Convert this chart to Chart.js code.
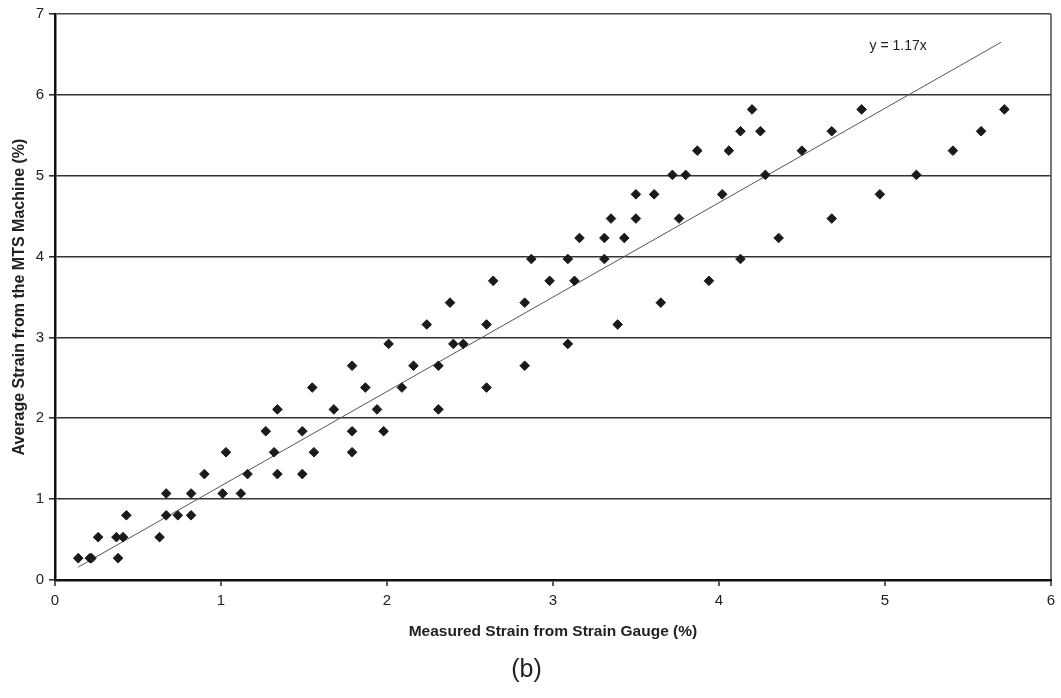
<!DOCTYPE html>
<html><head><meta charset="utf-8">
<script src="https://cdn.jsdelivr.net/npm/chart.js@4.4.1/dist/chart.umd.min.js"></script>
<style>html,body{margin:0;padding:0;background:#fff;}#wrap{position:relative;width:1061px;height:698px;}</style>
</head><body><div id="wrap"><canvas id="c" width="1061" height="698"></canvas></div>
<script>
// Measured strain (x) and MTS strain (y)
const xValues = [
  0.14,0.21,0.22,0.38,
  0.26,0.37,0.41,0.63,
  0.43,0.67,0.74,0.82,
  0.67,0.82,1.01,1.12,
  0.90,1.16,1.34,1.49,
  1.03,1.32,1.56,1.79,
  1.27,1.49,1.79,1.98,
  1.34,1.68,1.94,2.31,
  1.55,1.87,2.09,2.60,
  1.79,2.16,2.31,2.83,
  2.01,2.40,2.46,3.09,
  2.24,2.60,3.39,
  2.38,2.83,3.65,
  2.64,2.98,3.13,3.94,
  2.87,3.09,3.31,4.13,
  3.16,3.31,3.43,4.36,
  3.35,3.50,3.76,4.68,
  3.50,3.61,4.02,4.97,
  3.72,3.80,4.28,5.19,
  3.87,4.06,4.50,5.41,
  4.13,4.25,4.68,5.58,
  4.20,4.86,5.72
];
const yValues = [
  0.27,0.27,0.27,0.27,
  0.53,0.53,0.53,0.53,
  0.80,0.80,0.80,0.80,
  1.07,1.07,1.07,1.07,
  1.31,1.31,1.31,1.31,
  1.58,1.58,1.58,1.58,
  1.84,1.84,1.84,1.84,
  2.11,2.11,2.11,2.11,
  2.38,2.38,2.38,2.38,
  2.65,2.65,2.65,2.65,
  2.92,2.92,2.92,2.92,
  3.16,3.16,3.16,
  3.43,3.43,3.43,
  3.70,3.70,3.70,3.70,
  3.97,3.97,3.97,3.97,
  4.23,4.23,4.23,4.23,
  4.47,4.47,4.47,4.47,
  4.77,4.77,4.77,4.77,
  5.01,5.01,5.01,5.01,
  5.31,5.31,5.31,5.31,
  5.55,5.55,5.55,5.55,
  5.82,5.82,5.82
];
// Trend line y = 1.17x, end points
const trendX = [0.14, 5.70];
const trendY = [0.16, 6.65];
const trendLabel = 'y = 1.17x';
const xTicks = [0,1,2,3,4,5,6];
const yTicks = [0,1,2,3,4,5,6,7];
const xTitle = 'Measured Strain from Strain Gauge (%)';
const yTitle = 'Average Strain from the MTS Machine (%)';
const figLabel = '(b)';

const points = xValues.map((x,i)=>({x:x,y:yValues[i]}));
const trend = trendX.map((x,i)=>({x:x,y:trendY[i]}));

const FONT = "'Liberation Sans', Arial, sans-serif";

const labelPlugin = {
  id:'trendLabel',
  afterDatasetsDraw(chart){
    const {ctx, scales:{x,y}} = chart;
    ctx.save();
    ctx.font = '14px ' + FONT;
    ctx.fillStyle = '#222';
    ctx.textAlign = 'center';
    ctx.textBaseline = 'middle';
    ctx.fillText(trendLabel, x.getPixelForValue(5.08), y.getPixelForValue(6.6));
    ctx.restore();
  }
};

new Chart(document.getElementById('c'), {
  type:'scatter',
  data:{datasets:[
    {label:'data', data:points, pointStyle:'rectRot', pointRadius:4.8, pointHoverRadius:4.8,
     backgroundColor:'#1a1a1a', borderColor:'#1a1a1a', borderWidth:1, order:1},
    {type:'line', label:'trend', data:trend, borderColor:'#555', borderWidth:1, pointRadius:0,
     fill:false, showLine:true, order:2}
  ]},
  options:{
    responsive:false, animation:false, devicePixelRatio:1,
    layout:{padding:{left:0,right:8,top:11,bottom:0}},
    plugins:{
      legend:{display:false}, tooltip:{enabled:false},
      title:{display:true, position:'bottom', text:figLabel, color:'#222',
        font:{family:FONT, size:25, weight:'normal', lineHeight:1}, padding:{top:0,bottom:15}}
    },
    scales:{
      x:{type:'linear', min:0, max:6,
        afterBuildTicks:(s)=>{s.ticks = xTicks.map(v=>({value:v}));},
        afterFit:(s)=>{s.height = 78;},
        ticks:{font:{family:FONT,size:15}, color:'#222', padding:6, maxRotation:0},
        grid:{drawOnChartArea:true, color:(c)=> (c.tick && c.tick.value===6) ? '#777' : 'rgba(0,0,0,0)',
          lineWidth:2, tickColor:'#222', tickLength:6, tickWidth:1.5},
        border:{display:true, color:'#111', width:2.5},
        title:{display:true, text:xTitle, color:'#222', font:{family:FONT,size:15.5,weight:'bold',lineHeight:1},
          padding:{top:0,bottom:19}}
      },
      y:{type:'linear', min:0, max:7,
        afterBuildTicks:(s)=>{s.ticks = yTicks.map(v=>({value:v}));},
        afterFit:(s)=>{s.width = 55;},
        ticks:{font:{family:FONT,size:15}, color:'#222', padding:5},
        grid:{color:(c)=> (c.tick && c.tick.value===7) ? '#444' : '#333', lineWidth:1.6,
          tickColor:'#222', tickLength:6, tickWidth:1.5},
        border:{display:true, color:'#111', width:2.5},
        title:{display:true, text:yTitle, color:'#222', font:{family:FONT,size:16,weight:'bold',lineHeight:1},
          padding:{top:12,bottom:0}}
      }
    }
  },
  plugins:[labelPlugin]
});
</script></body></html>
